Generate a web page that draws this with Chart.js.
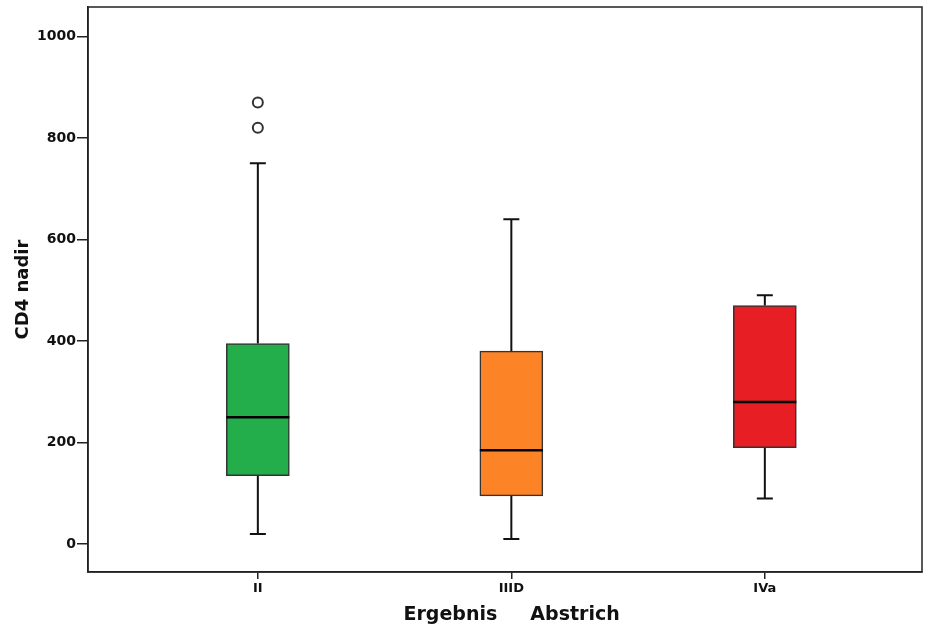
<!DOCTYPE html>
<html>
<head>
<meta charset="utf-8">
<script src="https://cdn.jsdelivr.net/npm/chart.js@4/dist/chart.umd.min.js"></script>
<style>
  html, body { margin: 0; padding: 0; background: #fff; }
  #wrap { width: 929px; height: 632px; }
</style>
</head>
<body>
<div id="wrap"><canvas id="chart"></canvas></div>
<script>
// Data
const categories = ['II', 'IIID', 'IVa'];
const whiskerLow = [20, 10, 90];
const q1 = [135, 95, 190];
const medians = [250, 185, 280];
const q3 = [395, 380, 470];
const whiskerHigh = [750, 640, 490];
const outlierCategory = [1, 1];
const outlierValues = [820, 870];
const yTicks = [0, 200, 400, 600, 800, 1000];

const boxColors = ['#23ad4b', '#fd8327', '#e81e25'];
const fontFamily = '"DejaVu Sans", sans-serif';

// whiskers under the boxes, medians and frame on top
const boxplotParts = {
    id: 'boxplotParts',
    beforeDatasetsDraw(chart) {
        const { ctx, scales: { x, y } } = chart;
        ctx.save();
        ctx.strokeStyle = '#111';
        ctx.lineWidth = 2;
        categories.forEach((c, i) => {
            const px = x.getPixelForValue(i + 1);
            ctx.beginPath();
            ctx.moveTo(px, y.getPixelForValue(whiskerLow[i]));
            ctx.lineTo(px, y.getPixelForValue(q1[i]));
            ctx.moveTo(px, y.getPixelForValue(q3[i]));
            ctx.lineTo(px, y.getPixelForValue(whiskerHigh[i]));
            ctx.stroke();
            ctx.beginPath();
            [whiskerLow[i], whiskerHigh[i]].forEach(v => {
                const py = y.getPixelForValue(v);
                ctx.moveTo(px - 8, py);
                ctx.lineTo(px + 8, py);
            });
            ctx.stroke();
        });
        ctx.restore();
    },
    afterDatasetsDraw(chart) {
        const { ctx, chartArea, scales: { y } } = chart;
        const meta = chart.getDatasetMeta(0);
        ctx.save();
        ctx.strokeStyle = '#000';
        ctx.lineWidth = 2.5;
        categories.forEach((c, i) => {
            const bar = meta.data[i];
            const py = y.getPixelForValue(medians[i]);
            ctx.beginPath();
            ctx.moveTo(bar.x - bar.width / 2, py);
            ctx.lineTo(bar.x + bar.width / 2, py);
            ctx.stroke();
        });
        // frame
        ctx.strokeStyle = '#222';
        ctx.lineWidth = 1.5;
        ctx.strokeRect(chartArea.left, chartArea.top, chartArea.right - chartArea.left, chartArea.bottom - chartArea.top);
        ctx.restore();
    }
};

new Chart(document.getElementById('chart'), {
    data: {
        datasets: [{
            type: 'bar',
            data: categories.map((c, i) => ({ x: i + 1, y: [q1[i], q3[i]] })),
            backgroundColor: boxColors,
            borderColor: '#333',
            borderWidth: 1.5,
            borderSkipped: false,
            barThickness: 63
        }, {
            type: 'scatter',
            data: outlierValues.map((v, i) => ({ x: outlierCategory[i], y: v })),
            pointStyle: 'circle',
            pointRadius: 5,
            backgroundColor: '#fff',
            borderColor: '#333',
            borderWidth: 2
        }]
    },
    options: {
        responsive: true,
        maintainAspectRatio: false,
        animation: false,
        events: [],
        layout: { padding: { top: 4, right: 4, left: 9, bottom: 0 } },
        plugins: {
            legend: { display: false },
            tooltip: { enabled: false }
        },
        scales: {
            x: {
                type: 'linear',
                offset: false,
                min: 0.33,
                max: 3.62,
                afterBuildTicks: s => { s.ticks = categories.map((c, i) => ({ value: i + 1 })); },
                afterFit: s => { s.height = 60; s.paddingLeft = 0; s.paddingRight = 0; },
                grid: { offset: false, drawOnChartArea: false, drawTicks: true, tickLength: 7, color: '#222', lineWidth: 1.5 },
                border: { display: true, color: '#222', width: 1.5 },
                ticks: {
                    color: '#111',
                    padding: 2,
                    font: { family: fontFamily, size: 13, weight: 'bold' },
                    callback: v => categories[v - 1]
                },
                title: {
                    display: true,
                    text: '  Ergebnis     Abstrich',
                    color: '#111',
                    padding: { top: 0, bottom: 6 },
                    font: { family: fontFamily, size: 19, weight: 'bold' }
                }
            },
            y: {
                min: -55,
                max: 1058,
                afterBuildTicks: s => { s.ticks = yTicks.map(v => ({ value: v })); },
                afterFit: s => { s.width = 79; s.paddingTop = 0; s.paddingBottom = 0; },
                grid: { drawOnChartArea: false, drawTicks: true, tickLength: 11, color: '#222', lineWidth: 1.5 },
                border: { display: true, color: '#222', width: 1.5 },
                ticks: {
                    color: '#111',
                    padding: 1,
                    font: { family: fontFamily, size: 14, weight: 'bold' },
                    callback: v => String(v)
                },
                title: {
                    display: true,
                    text: 'CD4 nadir',
                    color: '#111',
                    padding: { bottom: 20 },
                    font: { family: fontFamily, size: 18, weight: 'bold' }
                }
            }
        }
    },
    plugins: [boxplotParts]
});
</script>
</body>
</html>
